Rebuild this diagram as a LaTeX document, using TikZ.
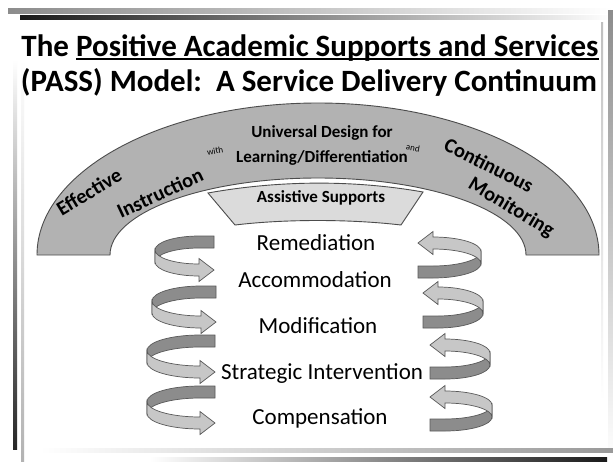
\documentclass[tikz,border=0pt]{standalone}
\usepackage{fontspec}
\setmainfont{Carlito}
\usetikzlibrary{calc}
\def\passline#1{\setbox0\hbox{#1}\rlap{\rule[-4pt]{\wd0}{1.8pt}}\box0}
\def\leftcurl(#1,#2)(#3:#4){%
  \filldraw[backband] (#1+15, #2-#4-6) -- (#1, #2-#4-6) arc[start angle=270, end angle=180, x radius=#3, y radius=#4] -- ++(0,12) arc[start angle=180, end angle=270, x radius=#3, y radius=#4] -- (#1+15, #2-#4+6) -- cycle;
  \filldraw[frontband] (#1-#3, #2-6) arc[start angle=180, end angle=90, x radius=#3, y radius=#4] -- (#1, #2+#4-11.5) -- (#1+15, #2+#4) -- (#1, #2+#4+11.5) -- (#1, #2+#4+6) arc[start angle=90, end angle=180, x radius=#3, y radius=#4] -- cycle;}
\def\rightcurl(#1,#2)(#3:#4){%
  \filldraw[backband] (#1+#3, #2-6) arc[start angle=0, end angle=90, x radius=#3, y radius=#4] -- (#1-15, #2+#4-6) -- (#1-15, #2+#4+6) -- (#1, #2+#4+6) arc[start angle=90, end angle=0, x radius=#3, y radius=#4] -- cycle;
  \filldraw[frontband] (#1, #2-#4-6) -- (#1, #2-#4-11.5) -- (#1-15, #2-#4) -- (#1, #2-#4+11.5) -- (#1, #2-#4+6) arc[start angle=270, end angle=360, x radius=#3, y radius=#4] -- ++(0,-12) arc[start angle=0, end angle=-90, x radius=#3, y radius=#4] -- cycle;}
\tikzset{
  backband/.style={fill=black!45, draw=black!65, line width=0.7pt},
  frontband/.style={fill=black!22, draw=black!65, line width=0.7pt},
  archband/.style={fill=black!30, draw=black!70, line width=0.9pt},
  assistbox/.style={fill=black!14, draw=black!70, line width=0.9pt}
}

\begin{document}
\begin{tikzpicture}[x=1pt, y=-1pt,
    title/.style={font=\bfseries\fontsize{31}{31}\selectfont, inner sep=0pt, anchor=base},
    archtext/.style={font=\bfseries\fontsize{20.5}{20.5}\selectfont, inner sep=0pt},
    udltext/.style={font=\bfseries\fontsize{17}{17}\selectfont, inner sep=0pt, anchor=base},
    smalltext/.style={font=\fontsize{9}{9}\selectfont, inner sep=0pt},
    level/.style={font=\fontsize{23}{23}\selectfont, inner sep=0pt, anchor=base}]
		%%%%% START %%%%%
		\useasboundingbox (0, 0) rectangle (613, 461);
		\fill[white] (0, 0) rectangle (613, 461);
		
		% slide frame
		\shade[left color=black!45, right color=white] (8, 8) rectangle (613, 13);
		\shade[left color=black!90, middle color=black!60, right color=white] (20, 15) rectangle (613, 19);
		\shade[top color=black!45, bottom color=white] (608, 10) rectangle (613, 461);
		\shade[top color=black!25, bottom color=white] (601, 22) rectangle (603, 400);
		\shade[top color=white, bottom color=black!85] (13, 60) rectangle (17, 449);
		\shade[top color=white, bottom color=black!30] (21, 60) rectangle (24, 461);
		\shade[left color=white, right color=black!40] (40, 448) rectangle (613, 452);
		\shade[left color=white, right color=black!90] (150, 457) rectangle (607, 461);
		
		% title
		\node[title] (title1) at (310, 56) {The \passline{Positive Academic Supports and Services}};
		\node[title] (title2) at (309, 91) {(PASS) Model:\ \ A Service Delivery Continuum};
		
		% arch
		\draw[archband] (37, 255) arc[start angle=180, end angle=360, x radius=281, y radius=152] -- (526, 255) arc[start angle=0, end angle=-180, x radius=208, y radius=77] -- cycle;
		\draw[assistbox] (208, 193) .. controls (280, 180) and (355, 180) .. (423, 192) -- (401, 225) .. controls (350, 219) and (285, 219) .. (235, 225) -- cycle;
		
		\node[archtext, rotate=31] (effective) at (89, 192) {Effective};
		\node[archtext, rotate=25] (instruction) at (160, 193) {Instruction};
		\node[smalltext, rotate=10] (with) at (215, 151) {with};
		\node[udltext] (udl1) at (322, 137) {Universal Design for};
		\node[udltext] (udl2) at (322, 162) {Learning/Differentiation};
		\node[smalltext, rotate=-10] (and) at (413, 148) {and};
		\node[archtext, rotate=-27] (continuous) at (489, 165) {Continuous};
		\node[archtext, rotate=-31] (monitoring) at (511, 208) {Monitoring};
		\node[udltext] (assistive) at (321, 202) {Assistive Supports};
		
		% continuum
		\node[level] (remediation) at (316, 250) {Remediation};
		\node[level] (accommodation) at (315, 287) {Accommodation};
		\node[level] (modification) at (318, 333) {Modification};
		\node[level] (strategic) at (322, 379) {Strategic Intervention};
		\node[level] (compensation) at (320, 424) {Compensation};
		
		% curls
		\leftcurl(199, 256)(44:14)
		\leftcurl(201, 307)(49:15)
		\leftcurl(200, 356.5)(53:15.5)
		\leftcurl(200, 407.5)(53:15.5)
		
		\rightcurl(433, 257.5)(48:14.5)
		\rightcurl(438, 307.5)(45:14.5)
		\rightcurl(445, 359)(45:14)
		\rightcurl(445, 411)(47:14)
		
		%%%%% END %%%%%
	\end{tikzpicture}
\end{document}
